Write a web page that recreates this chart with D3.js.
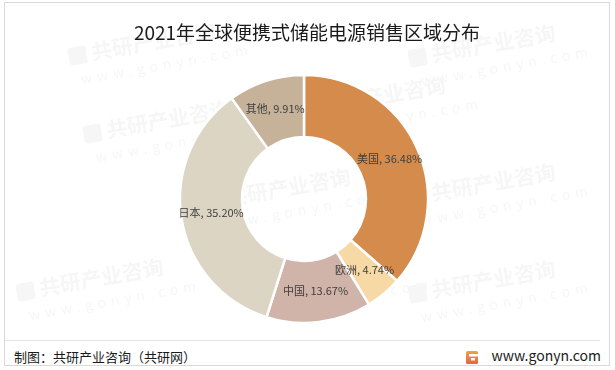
<!DOCTYPE html>
<html>
<head>
<meta charset="utf-8">
<script src="https://cdn.jsdelivr.net/npm/d3@7"></script>
<style>
  body { margin: 0; background: #fff; }
  svg { display: block; font-family: "Noto Sans CJK SC", "Microsoft YaHei", sans-serif; }
</style>
</head>
<body>
<div class="canvas"></div>
<script>
// data
const regions = ['美国', '欧洲', '中国', '日本', '其他'];
const shares = [36.48, 4.74, 13.67, 35.20, 9.91];
const colors = ['#D48B4B', '#F7D9A5', '#D1B4A9', '#DDD5C4', '#C5B299'];

const dims = { width: 615, height: 370, outer: 124, inner: 62 };
const cent = { x: 304, y: 199 };

const svg = d3.select('.canvas')
    .append('svg')
    .attr('width', dims.width)
    .attr('height', dims.height);

// outer frame
svg.append('rect')
    .attr('x', 4.5).attr('y', 2.5)
    .attr('width', 605).attr('height', 363)
    .attr('fill', '#fff')
    .attr('stroke', '#d9d9d9');

// faint watermark tiles behind everything
const marks = [[70, 64], [410, 66], [300, 118], [85, 142], [410, 205],
               [205, 210], [18, 300], [250, 298], [410, 302]];

const wm = svg.append('g').attr('opacity', 0.05);
marks.forEach(([x, y]) => {
    const g = wm.append('g').attr('transform', `translate(${x}, ${y}) rotate(-10)`);
    g.append('rect')
        .attr('x', 0).attr('y', -16).attr('width', 18).attr('height', 18)
        .attr('rx', 3).attr('fill', '#444');
    g.append('text')
        .attr('x', 23).attr('y', 0)
        .attr('font-size', 21).attr('font-weight', 'bold')
        .attr('fill', '#444')
        .text('共研产业咨询');
    g.append('text')
        .attr('x', 8).attr('y', 22)
        .attr('font-size', 14)
        .attr('letter-spacing', 5)
        .attr('fill', '#444')
        .text('www.gonyn.com');
});

// title
svg.append('text')
    .attr('x', 307).attr('y', 35)
    .attr('text-anchor', 'middle')
    .attr('dominant-baseline', 'middle')
    .attr('font-size', 19)
    .attr('fill', '#1a1a1a')
    .text('2021年全球便携式储能电源销售区域分布');

// donut
const data = regions.map((name, i) => ({ name, value: shares[i] }));

const pie = d3.pie()
    .sort(null)
    .value(d => d.value);

const arcPath = d3.arc()
    .outerRadius(dims.outer)
    .innerRadius(dims.inner);

const labelArc = d3.arc()
    .outerRadius(94)
    .innerRadius(94);

const color = d3.scaleOrdinal().domain(regions).range(colors);

const graph = svg.append('g')
    .attr('transform', `translate(${cent.x}, ${cent.y})`);

graph.selectAll('path')
    .data(pie(data))
    .enter()
    .append('path')
    .attr('d', arcPath)
    .attr('fill', d => color(d.data.name))
    .attr('stroke', '#fff')
    .attr('stroke-width', 2.5);

graph.selectAll('text.lbl')
    .data(pie(data))
    .enter()
    .append('text')
    .attr('class', 'lbl')
    .attr('transform', d => `translate(${labelArc.centroid(d)})`)
    .attr('text-anchor', 'middle')
    .attr('dominant-baseline', 'middle')
    .attr('font-size', 11)
    .attr('fill', '#404040')
    .text(d => `${d.data.name}, ${d3.format('.2f')(d.data.value)}%`);

// footer
svg.append('line')
    .attr('x1', 5).attr('x2', 600)
    .attr('y1', 340.5).attr('y2', 340.5)
    .attr('stroke', '#e3e3e3');

svg.append('text')
    .attr('x', 14).attr('y', 358)
    .attr('dominant-baseline', 'middle')
    .attr('font-size', 13)
    .attr('fill', '#1a1a1a')
    .text('制图：共研产业咨询（共研网）');

// small logo mark
const grad = svg.append('defs').append('linearGradient')
    .attr('id', 'lg').attr('x1', 0).attr('y1', 0).attr('x2', 0).attr('y2', 1);
grad.append('stop').attr('offset', 0).attr('stop-color', '#F0A04B');
grad.append('stop').attr('offset', 1).attr('stop-color', '#E8643C');
const logo = svg.append('g').attr('transform', 'translate(466, 351)');
logo.append('rect').attr('width', 12).attr('height', 13).attr('rx', 1.5).attr('fill', 'url(#lg)');
logo.append('rect').attr('x', 3).attr('y', 3).attr('width', 9).attr('height', 2.5).attr('fill', '#fff');
logo.append('rect').attr('x', 5).attr('y', 7).attr('width', 4).attr('height', 2.5).attr('fill', '#fff');

svg.append('text')
    .attr('x', 601).attr('y', 357)
    .attr('text-anchor', 'end')
    .attr('dominant-baseline', 'middle')
    .attr('font-size', 14)
    .attr('fill', '#1a1a1a')
    .text('www.gonyn.com');
</script>
</body>
</html>
